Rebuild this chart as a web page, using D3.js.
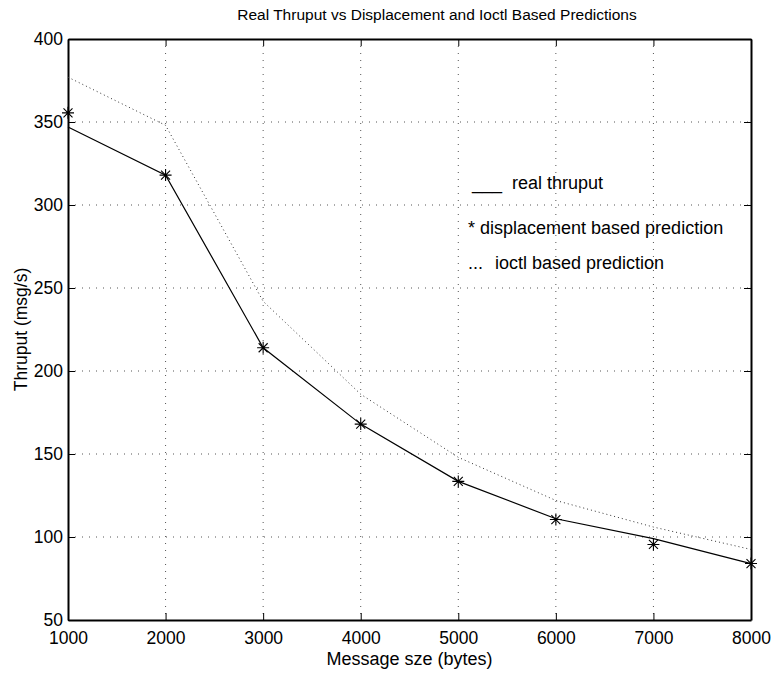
<!DOCTYPE html>
<html>
<head>
<meta charset="utf-8">
<script src="https://cdn.jsdelivr.net/npm/d3@7"></script>
<style>
  body { margin: 0; background: #fff; }
  text { font-family: "Liberation Sans", Arial, sans-serif; fill: #000; }
</style>
</head>
<body>
<svg id="chart" width="773" height="673"></svg>
<script>
const messageSizes = [1000, 2000, 3000, 4000, 5000, 6000, 7000, 8000];
const realThruput = [347, 318, 214, 168, 133.5, 111, 99, 84];
const displacementPred = [355.5, 318, 214, 168, 133.5, 110.5, 95.5, 84];
const ioctlPred = [377, 348, 242, 186, 148, 122, 106, 92.5];
const xTicks = [1000, 2000, 3000, 4000, 5000, 6000, 7000, 8000];
const yTicks = [50, 100, 150, 200, 250, 300, 350, 400];

const margin = { top: 39, right: 22, bottom: 53, left: 68 };
const width = 773 - margin.left - margin.right;
const height = 673 - margin.top - margin.bottom;

const svg = d3.select('#chart')
  .append('g')
  .attr('transform', 'translate(' + margin.left + ',' + margin.top + ')');

const x = d3.scaleLinear().domain([1000, 8000]).range([0, width]);
const y = d3.scaleLinear().domain([50, 400]).range([height, 0]);

// grid
svg.append('g').selectAll('line.vg')
  .data(xTicks.slice(1, -1))
  .enter().append('line')
  .attr('x1', d => x(d)).attr('x2', d => x(d))
  .attr('y1', 0).attr('y2', height)
  .attr('stroke', '#555').attr('stroke-width', 1)
  .attr('stroke-dasharray', '1,6');

svg.append('g').selectAll('line.hg')
  .data(yTicks.slice(1, -1))
  .enter().append('line')
  .attr('x1', 0).attr('x2', width)
  .attr('y1', d => y(d)).attr('y2', d => y(d))
  .attr('stroke', '#555').attr('stroke-width', 1)
  .attr('stroke-dasharray', '1,6');

// axes (MATLAB-style inward ticks on all sides)
const tickLen = 7;
const fmt = d3.format('d');
const axBottom = svg.append('g').attr('transform', 'translate(0,' + height + ')')
  .call(d3.axisBottom(x).tickValues(xTicks).tickFormat(fmt).tickSizeInner(-tickLen).tickSizeOuter(0).tickPadding(0));
const axLeft = svg.append('g')
  .call(d3.axisLeft(y).tickValues(yTicks).tickFormat(fmt).tickSizeInner(-tickLen).tickSizeOuter(0).tickPadding(4));
const axTop = svg.append('g')
  .call(d3.axisTop(x).tickValues(xTicks).tickSizeInner(-tickLen).tickSizeOuter(0).tickFormat(''));
const axRight = svg.append('g').attr('transform', 'translate(' + width + ',0)')
  .call(d3.axisRight(y).tickValues(yTicks).tickSizeInner(-tickLen).tickSizeOuter(0).tickFormat(''));

[axBottom, axLeft, axTop, axRight].forEach(g => {
  g.select('.domain').attr('stroke', '#000').attr('stroke-width', 2);
  g.selectAll('.tick line').attr('stroke', '#000');
  g.selectAll('.tick text').style('font-size', '17.5px').style('font-family', '"Liberation Sans", Arial, sans-serif');
});
axBottom.selectAll('.tick text').attr('y', 24).attr('dy', 0);
axLeft.selectAll('.tick text').attr('dy', '0.3em').attr('x', -5);

// ioctl prediction (dotted)
const line = d3.line().x((d, i) => x(messageSizes[i])).y(d => y(d));
svg.append('path')
  .datum(ioctlPred)
  .attr('d', line)
  .attr('fill', 'none')
  .attr('stroke', '#333')
  .attr('stroke-width', 1)
  .attr('stroke-dasharray', '1,3');

// real thruput (solid)
svg.append('path')
  .datum(realThruput)
  .attr('d', line)
  .attr('fill', 'none')
  .attr('stroke', '#000')
  .attr('stroke-width', 1.2);

// displacement prediction (asterisks)
const star = svg.append('g');
displacementPred.forEach((v, i) => {
  const cx = x(messageSizes[i]);
  const cy = y(v);
  const r = 6;
  star.append('path')
    .attr('d', 'M' + (cx - r) + ',' + cy + 'L' + (cx + r) + ',' + cy +
      'M' + (cx - r * 0.75) + ',' + (cy - r * 0.75) + 'L' + (cx + r * 0.75) + ',' + (cy + r * 0.75) +
      'M' + (cx - r * 0.75) + ',' + (cy + r * 0.75) + 'L' + (cx + r * 0.75) + ',' + (cy - r * 0.75) +
      'M' + cx + ',' + (cy - r) + 'L' + cx + ',' + (cy + r))
    .attr('stroke', '#000')
    .attr('stroke-width', 1.1)
    .attr('fill', 'none');
});

// title and labels
d3.select('#chart').append('text')
  .attr('x', 437).attr('y', 20)
  .attr('text-anchor', 'middle')
  .style('font-size', '15.5px')
  .text('Real Thruput vs Displacement and Ioctl Based Predictions');

d3.select('#chart').append('text')
  .attr('x', margin.left + width / 2).attr('y', 665)
  .attr('text-anchor', 'middle')
  .style('font-size', '18px')
  .text('Message sze (bytes)');

d3.select('#chart').append('text')
  .attr('transform', 'translate(27,' + (margin.top + height / 2) + ') rotate(-90)')
  .attr('text-anchor', 'middle')
  .style('font-size', '17.5px')
  .text('Thruput (msg/s)');

// legend text
const legend = [
  { text: '___', x: 472, y: 189 },
  { text: 'real thruput', x: 512, y: 189 },
  { text: '* displacement based prediction', x: 468, y: 234 },
  { text: '...', x: 468, y: 269 },
  { text: 'ioctl based prediction', x: 495, y: 269 }
];
d3.select('#chart').selectAll('text.legend')
  .data(legend)
  .enter().append('text')
  .attr('class', 'legend')
  .attr('x', d => d.x).attr('y', d => d.y)
  .style('font-size', '18px')
  .text(d => d.text);
</script>
</body>
</html>
